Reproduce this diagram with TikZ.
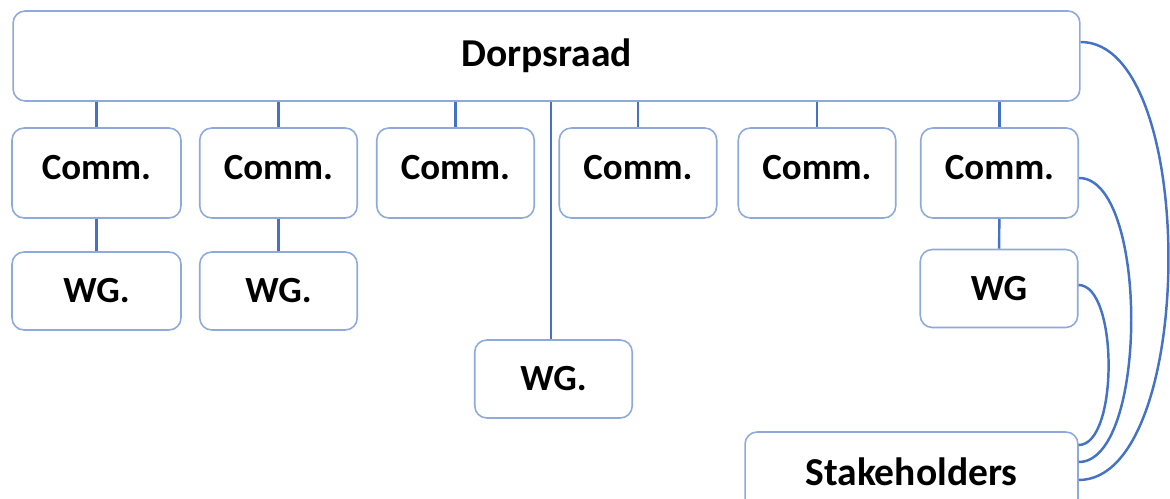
\documentclass[tikz,border=0pt]{standalone}
\usepackage{fontspec}
\setmainfont{Carlito}
\usepackage{tikz}
\definecolor{boxline}{HTML}{8EAADB}
\definecolor{linkline}{HTML}{4472C4}
\tikzstyle{rbox} = [draw=boxline,line width=0.9pt,fill=white,rounded corners=0.24cm,
    font=\bfseries\fontsize{21}{25}\selectfont,inner sep=0pt]
\tikzstyle{commbox} = [rbox,minimum width=3.15cm,minimum height=1.8cm,text depth=0.22cm]
\tikzstyle{wgbox} = [rbox,minimum width=3.15cm,minimum height=1.56cm]
\tikzstyle{link} = [draw=linkline,line width=1.4pt]
\newcommand{\commlink}[1]{
    \draw[link] (#1.north) -- (#1.north |- dorp.south);
}

\begin{document}
\begin{tikzpicture}[x=0.02cm,y=-0.02cm]
	\useasboundingbox (0,0) rectangle (1170,499);
	\clip (0,0) rectangle (1170,499);
	
	\node(dorp) at (546.5,56) [rbox, minimum width=21.34cm, minimum height=1.8cm, font=\bfseries\fontsize{22.5}{26}\selectfont] {Dorpsraad};
	
	\node(comm1) at (96.5,173) [commbox, minimum width=3.38cm] {Comm.};
	\node(comm2) at (278.5,173) [commbox] {Comm.};
	\node(comm3) at (455.5,173) [commbox] {Comm.};
	\node(comm4) at (638,173) [commbox] {Comm.};
	\node(comm5) at (817,173) [commbox] {Comm.};
	\node(comm6) at (999.5,173) [commbox] {Comm.};
	
	\node(wg1) at (96.5,291) [wgbox, minimum width=3.38cm] {WG.};
	\node(wg2) at (278.5,291) [wgbox] {WG.};
	\node(wg6) at (999,288.5) [wgbox] {WG};
	\node(wgmid) at (553.5,379) [wgbox] {WG.};
	
	\node(stake) at (911.5,472) [rbox, minimum width=6.66cm, minimum height=1.6cm, font=\bfseries\fontsize{22.5}{26}\selectfont] {Stakeholders};
	
	\foreach \c in {comm1,comm2,comm3,comm4,comm5,comm6}{
		\commlink{\c}
	}
	\draw[link] (wgmid.north -| 551,0) -- (dorp.south -| 551,0);
	
	\draw[link] (comm1) -- (wg1);
	\draw[link] (comm2) -- (wg2);
	\draw[link] (comm6) -- (wg6);
	
	\draw[link] ([yshift=0.28cm]dorp.east) to[out=0,in=0,looseness=0.69] ([yshift=-0.16cm]stake.east);
	\draw[link] ([yshift=-0.1cm]comm6.east) to[out=0,in=0,looseness=0.63] ([yshift=0.2cm]stake.east);
	\draw[link] ([yshift=0.07cm]wg6.east) to[out=0,in=0,looseness=0.64] ([yshift=0.54cm]stake.east);
\end{tikzpicture}
\end{document}
